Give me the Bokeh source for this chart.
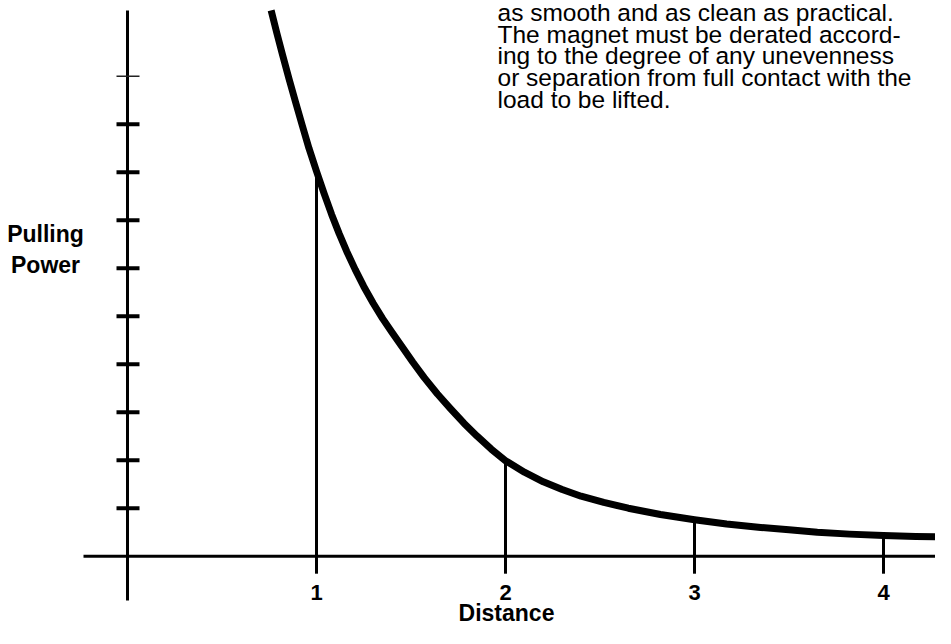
from bokeh.plotting import figure
from bokeh.models import Range1d
from bokeh.core.properties import value
from bokeh.embed import file_html
from bokeh.resources import INLINE

# ---- data ----
curve_x = [0.76, 0.79, 0.82, 0.855, 0.89, 0.925, 0.96, 1.0, 1.04, 1.08, 1.12, 1.16,
           1.205, 1.25, 1.30, 1.35, 1.40, 1.45, 1.51, 1.57, 1.64, 1.71, 1.78, 1.85,
           1.925, 2.0, 2.1, 2.2, 2.3, 2.4, 2.52, 2.65, 2.82, 3.0, 3.17, 3.35, 3.5,
           3.65, 3.82, 4.0, 4.17, 4.35]
curve_y = [11.37, 10.90, 10.45, 9.94, 9.45, 8.97, 8.50, 8.02, 7.56, 7.12, 6.72, 6.35,
           5.97, 5.62, 5.27, 4.95, 4.66, 4.38, 4.04, 3.72, 3.38, 3.07, 2.77, 2.50,
           2.23, 1.99, 1.75, 1.55, 1.39, 1.25, 1.12, 1.00, 0.87, 0.76, 0.67, 0.60,
           0.55, 0.50, 0.46, 0.43, 0.41, 0.40]
x_ticks = [1, 2, 3, 4]
x_tick_labels = ["1", "2", "3", "4"]
drop_vals = [8.02, 1.99, 0.76, 0.43]
y_ticks_major = [1, 2, 3, 4, 5, 6, 7, 8, 9]
y_tick_minor = [10]
para_lines = [
    "as smooth and as clean as practical.",
    "The magnet must be derated accord-",
    "ing to the degree of any unevenness",
    "or separation from full contact with the",
    "load to be lifted.",
]
x_title = "Distance"
y_title = ["Pulling", "Power"]

# ---- layout ----
W, H = 935, 628
PX, PY = 189.0, 48.0          # pixels per data unit
X0 = -127.0 / PX
Y1 = 555.7 / PY
TXT_SHIFT = 8                 # text renders lower than its nominal baseline
FONT = value("Liberation Sans")

p = figure(width=W, height=H, output_backend="svg", toolbar_location=None,
           x_axis_location=None, y_axis_location=None,
           x_range=Range1d(X0, X0 + W / PX), y_range=Range1d(Y1 - H / PY, Y1),
           min_border=0, outline_line_color=None)
p.xgrid.visible = False
p.ygrid.visible = False
p.background_fill_color = "white"

def px_x(d):
    return d / PX

def px_y(d):
    return d / PY

def text_y(page_y):
    return Y1 - px_y(page_y - TXT_SHIFT)

# axes
p.segment(x0=[0], y0=[-px_y(44.3)], x1=[0], y1=[Y1 - px_y(10)], line_width=3, color="black")
p.segment(x0=[-px_x(44)], y0=[0], x1=[X0 + W / PX + 0.1], y1=[0], line_width=3, color="black")

# y ticks
p.segment(x0=[-px_x(11)] * len(y_ticks_major), y0=y_ticks_major,
          x1=[px_x(12)] * len(y_ticks_major), y1=y_ticks_major,
          line_width=4, color="black")
p.segment(x0=[-px_x(11)] * len(y_tick_minor), y0=y_tick_minor,
          x1=[px_x(12)] * len(y_tick_minor), y1=y_tick_minor,
          line_width=1.5, color="#222222")

# x ticks (below axis) and drop lines up to the curve
p.segment(x0=x_ticks, y0=[-px_y(17.5)] * len(x_ticks), x1=x_ticks, y1=[0] * len(x_ticks),
          line_width=3, color="black")
p.segment(x0=x_ticks, y0=[0] * len(x_ticks), x1=x_ticks, y1=drop_vals,
          line_width=3, color="black")

# curve
p.line(curve_x, curve_y, line_width=7, color="black", line_join="round")

# tick labels
p.text(x=x_ticks, y=[text_y(600)] * len(x_ticks), text=x_tick_labels,
       text_font=FONT, text_font_style="bold", text_font_size="22px",
       text_align="center", text_baseline="alphabetic", color="black")

# axis titles
p.text(x=[(506 - 127) / PX], y=[text_y(620)], text=[x_title],
       text_font=FONT, text_font_style="bold", text_font_size="23px",
       text_align="center", text_baseline="alphabetic", color="black")
p.text(x=[-(127 - 45) / PX] * 2, y=[text_y(241), text_y(272)], text=y_title,
       text_font=FONT, text_font_style="bold", text_font_size="23px",
       text_align="center", text_baseline="alphabetic", color="black")

# paragraph
n = len(para_lines)
p.text(x=[(497 - 127) / PX] * n,
       y=[text_y(20 + i * 21.7) for i in range(n)],
       text=para_lines, text_font=FONT, text_font_size="24.5px",
       text_align="left", text_baseline="alphabetic", color="black")

open("out.html", "w").write(file_html(p, INLINE))
